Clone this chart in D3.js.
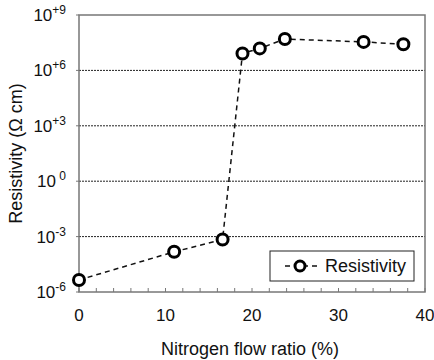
<!DOCTYPE html>
<html>
<head>
<meta charset="utf-8">
<script src="https://cdn.jsdelivr.net/npm/d3@7"></script>
<style>
  body { margin: 0; background: #fff; }
  text { font-family: "Liberation Sans", Arial, sans-serif; fill: #111; }
</style>
</head>
<body>
<div id="canvas"></div>
<script>
"use strict"

let svgWidth = 434
let svgHeight = 360

let margin = { top: 15, right: 9, bottom: 68, left: 79 }

// data
let flowRatio = [0, 11, 16.6, 18.9, 20.9, 23.8, 32.9, 37.5]
let resistivity = [4.5e-6, 1.5e-4, 7e-4, 8.3e6, 1.55e7, 5e7, 3.5e7, 2.6e7]

let xTicks = [0, 10, 20, 30, 40]
let xMinor = d3.range(0, 41, 2)
let yTicks = [1e-6, 1e-3, 1, 1e3, 1e6, 1e9]
let yExponents = ["-6", "-3", "\u00a00", "+3", "+6", "+9"]
let seriesName = "Resistivity"

let svg = d3.select("#canvas")
    .append("svg")
    .attr("width", svgWidth)
    .attr("height", svgHeight)

let xScale = d3.scaleLinear()
    .domain([0, 40])
    .range([margin.left, svgWidth - margin.right])

let yScale = d3.scaleLog()
    .domain([1e-6, 1e9])
    .range([svgHeight - margin.bottom, margin.top])

let plotBottom = svgHeight - margin.bottom

/* gridlines (dashed) */
svg.selectAll("line.grid")
    .data(yTicks.slice(1, -1))
    .enter()
    .append("line")
    .attr("class", "grid")
    .attr("x1", margin.left)
    .attr("x2", svgWidth - margin.right)
    .attr("y1", d => yScale(d))
    .attr("y2", d => yScale(d))
    .attr("stroke", "#222")
    .attr("stroke-width", 1)
    .attr("stroke-dasharray", "2,1")

/* frame */
svg.append("rect")
    .attr("x", margin.left)
    .attr("y", margin.top)
    .attr("width", svgWidth - margin.left - margin.right)
    .attr("height", plotBottom - margin.top)
    .attr("fill", "none")
    .attr("stroke", "#777")
    .attr("stroke-width", 1.5)

/* X axis: minor ticks pointing up, labels under */
svg.selectAll("line.xtick")
    .data(xMinor)
    .enter()
    .append("line")
    .attr("class", "xtick")
    .attr("x1", d => xScale(d))
    .attr("x2", d => xScale(d))
    .attr("y1", plotBottom)
    .attr("y2", plotBottom - 4)
    .attr("stroke", "#777")
    .attr("stroke-width", 1)

svg.selectAll("text.xlabel")
    .data(xTicks)
    .enter()
    .append("text")
    .attr("class", "xlabel")
    .attr("x", d => xScale(d))
    .attr("y", plotBottom + 29)
    .attr("text-anchor", "middle")
    .attr("font-size", 17)
    .text(d => d)

/* Y axis: small outside ticks and 10^n labels */
svg.selectAll("line.ytick")
    .data(yTicks)
    .enter()
    .append("line")
    .attr("class", "ytick")
    .attr("x1", margin.left - 3)
    .attr("x2", margin.left)
    .attr("y1", d => yScale(d))
    .attr("y2", d => yScale(d))
    .attr("stroke", "#777")

let yLabels = svg.selectAll("text.ylabel")
    .data(yTicks)
    .enter()
    .append("text")
    .attr("class", "ylabel")
    .attr("x", margin.left - 13)
    .attr("y", d => yScale(d) + 6)
    .attr("text-anchor", "end")
    .attr("font-size", 17)

yLabels.append("tspan").text("10")
yLabels.append("tspan")
    .attr("dy", -7)
    .attr("font-size", 12)
    .text((d, i) => yExponents[i])

/* axis titles */
svg.append("text")
    .attr("x", 250)
    .attr("y", svgHeight - 5)
    .attr("text-anchor", "middle")
    .attr("font-size", 18)
    .text("Nitrogen flow ratio (%)")

svg.append("text")
    .attr("transform", "rotate(-90)")
    .attr("x", -(margin.top + plotBottom) / 2)
    .attr("y", 22)
    .attr("text-anchor", "middle")
    .attr("font-size", 18)
    .text("Resistivity (\u03A9 cm)")

/* series line */
let points = flowRatio.map((x, i) => ({ x: x, y: resistivity[i] }))

let line = d3.line()
    .x(d => xScale(d.x))
    .y(d => yScale(d.y))

svg.append("path")
    .datum(points)
    .attr("d", line)
    .attr("fill", "none")
    .attr("stroke", "#111")
    .attr("stroke-width", 1.5)
    .attr("stroke-dasharray", "5,4")

svg.selectAll("circle.pt")
    .data(points)
    .enter()
    .append("circle")
    .attr("class", "pt")
    .attr("cx", d => xScale(d.x))
    .attr("cy", d => yScale(d.y))
    .attr("r", 5.5)
    .attr("fill", "#fff")
    .attr("stroke", "#000")
    .attr("stroke-width", 3)

/* legend */
let legend = svg.append("g")
    .attr("transform", "translate(270,251)")

legend.append("rect")
    .attr("width", 144)
    .attr("height", 30)
    .attr("fill", "#fff")
    .attr("stroke", "#222")
    .attr("stroke-width", 1)

legend.append("line")
    .attr("x1", 14)
    .attr("x2", 47)
    .attr("y1", 15)
    .attr("y2", 15)
    .attr("stroke", "#111")
    .attr("stroke-width", 1.5)
    .attr("stroke-dasharray", "5,4")
    .attr("stroke-dashoffset", -1)

legend.append("circle")
    .attr("cx", 30)
    .attr("cy", 15)
    .attr("r", 5)
    .attr("fill", "#fff")
    .attr("stroke", "#000")
    .attr("stroke-width", 3)

legend.append("text")
    .attr("x", 55)
    .attr("y", 21)
    .attr("font-size", 18)
    .text(seriesName)
</script>
</body>
</html>
